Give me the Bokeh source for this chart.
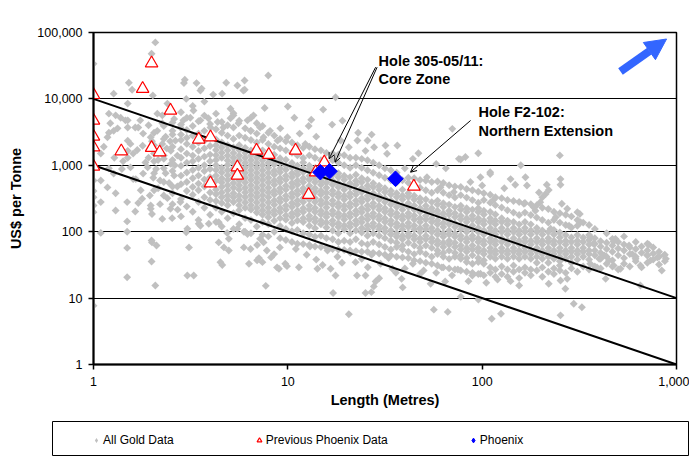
import math
from bokeh.plotting import figure
from bokeh.models import (Range1d, FixedTicker, NumeralTickFormatter, Label, Arrow,
                          NormalHead, OpenHead, Legend, LegendItem)
from bokeh.layouts import column
from bokeh.embed import file_html
from bokeh.resources import INLINE

FONT = "Liberation Sans"

# ---------------- data ----------------
# All Gold Data: columns of the dense cloud (length, [US$ per tonne values])
gold_strips_a = [
    (2.05, [420, 760, 1150, 2000, 3100]),
    (2.30, [350, 560, 900, 1400, 2500, 3900]),
    (2.55, [260, 480, 820, 1200, 1900, 2900, 4400]),
    (2.82, [170, 310, 520, 700, 980, 1300, 1750, 2400, 2900, 4100, 6300]),
    (3.02, [240, 410, 560, 780, 1090, 1500, 2100, 2600, 3400, 5200]),
    (3.24, [200, 360, 470, 640, 850, 1150, 1400, 1900, 2800, 3900, 7800]),
    (3.47, [150, 280, 420, 530, 700, 920, 1250, 1650, 2200, 3000, 4600]),
    (3.72, [230, 330, 480, 610, 820, 1000, 1350, 1800, 2350, 3300, 5600, 9100]),
    (3.98, [180, 300, 390, 520, 660, 880, 1150, 1450, 1950, 2600, 4200]),
    (4.27, [140, 230, 290, 365, 430, 590, 700, 850, 1000, 1200, 1420, 1700, 2000, 2450, 3500, 6000]),
    (4.57, [120, 200, 270, 330, 390, 470, 550, 640, 780, 920, 1300, 1550, 1850, 2200, 3100, 4500]),
    (4.90, [160, 250, 300, 350, 420, 500, 600, 710, 840, 1010, 1180, 1400, 1680, 2000, 2800, 4000]),
    (5.25, [110, 190, 280, 330, 380, 460, 540, 650, 770, 900, 1100, 1300, 1530, 1850, 2500, 3700, 6100]),
    (5.62, [130, 210, 250, 300, 350, 430, 500, 590, 700, 850, 1000, 1190, 1400, 1700, 2000, 2800, 4700]),
    (6.03, [100, 160, 230, 275, 330, 390, 460, 550, 650, 770, 920, 1090, 1300, 1540, 1830, 2600, 3600]),
    (6.46, [95, 150, 215, 250, 300, 355, 420, 500, 600, 710, 840, 1000, 1190, 1410, 1680, 2400, 3300, 5200]),
    (6.92, [120, 195, 230, 275, 330, 385, 460, 550, 650, 770, 920, 1090, 1300, 1540, 2200, 3000, 4300]),
    (7.41, [90, 140, 180, 210, 250, 300, 355, 420, 500, 600, 710, 840, 1000, 1190, 1410, 1680, 2400, 3900]),
    (7.94, [85, 130, 165, 195, 230, 275, 330, 390, 460, 550, 650, 770, 920, 1090, 1300, 1540, 2100, 3100]),
    (8.51, [100, 146, 181, 208, 255, 296, 362, 415, 508, 590, 722, 830, 1020, 1170, 1440, 1900, 2800]),
    (9.12, [80, 122, 160, 197, 228, 279, 320, 392, 452, 556, 640, 785, 905, 1110, 1280, 1800, 2500]),
    (9.77, [75, 110, 152, 175, 214, 247, 304, 349, 430, 492, 606, 697, 855, 985, 1210, 1680, 2300]),
]
gold_strips_b = [
    (10.5, [70, 102, 135, 166, 190, 236, 270, 331, 380, 468, 540, 660, 760, 930, 1080, 1540, 2200]),
    (11.2, [66, 106, 147, 182, 207, 256, 294, 362, 415, 510, 585, 720, 830, 990, 1410, 2000]),
    (12.0, [65, 95, 140, 160, 198, 226, 280, 320, 395, 452, 556, 640, 785, 905, 1100, 1290, 1830]),
    (12.9, [63, 91, 123, 153, 174, 215, 247, 305, 349, 430, 492, 606, 697, 855, 985, 1410, 1900]),
    (13.8, [60, 84, 113, 140, 160, 198, 227, 279, 320, 394, 452, 556, 640, 786, 905, 1300, 1750]),
    (14.8, [59, 87, 129, 147, 182, 207, 256, 294, 362, 415, 510, 586, 720, 830, 1190, 1680]),
    (15.8, [58, 80, 116, 137, 166, 190, 231, 270, 326, 385, 460, 546, 649, 775, 1090, 1540]),
    (17.0, [55, 77, 104, 129, 147, 182, 207, 256, 294, 362, 415, 510, 586, 720, 830, 1190, 1500]),
    (18.2, [54, 70, 95, 118, 134, 166, 190, 236, 269, 332, 380, 469, 537, 660, 760, 1090, 1450]),
    (19.5, [53, 73, 108, 124, 153, 175, 215, 247, 305, 349, 430, 492, 606, 697, 1000, 1420]),
    (20.9, [52, 70, 95, 118, 134, 166, 190, 236, 269, 332, 380, 469, 537, 660, 917, 1300]),
    (22.4, [51, 77, 104, 128, 147, 181, 207, 256, 294, 362, 415, 510, 585, 720, 1000, 1300]),
    (24.0, [50, 67, 97, 114, 139, 160, 196, 226, 280, 320, 394, 452, 556, 640, 917, 1250]),
    (25.7, [50, 64, 87, 108, 124, 153, 175, 215, 247, 305, 349, 430, 492, 606, 841, 1190]),
    (27.5, [48, 70, 95, 118, 134, 166, 190, 236, 269, 332, 380, 469, 537, 772, 1090]),
    (29.5, [47, 64, 87, 108, 123, 153, 174, 215, 246, 305, 348, 430, 492, 708, 1000]),
    (31.6, [45, 59, 80, 99, 114, 140, 160, 198, 226, 279, 320, 394, 452, 649, 900]),
]
gold_strips_c = [
    (33.9, [44, 54, 73, 91, 104, 129, 147, 182, 207, 256, 294, 362, 415, 596, 841]),
    (36.3, [42, 59, 68, 84, 95, 118, 134, 166, 190, 236, 269, 332, 380, 546, 772]),
    (38.9, [41, 54, 62, 77, 87, 108, 124, 153, 174, 215, 246, 305, 349, 430, 596]),
    (41.7, [40, 50, 68, 84, 95, 118, 135, 166, 190, 236, 269, 332, 380, 546, 650]),
    (44.7, [37, 46, 62, 77, 87, 108, 124, 153, 175, 215, 247, 305, 349, 501, 640]),
    (47.9, [36, 50, 57, 70, 80, 99, 114, 140, 160, 198, 226, 279, 320, 460, 600]),
    (51.3, [34, 46, 62, 77, 87, 108, 124, 153, 174, 215, 246, 305, 422, 590]),
    (55.0, [33, 42, 57, 70, 80, 99, 114, 140, 160, 198, 226, 279, 387, 560]),
    (58.9, [31, 46, 52, 64, 73, 91, 104, 129, 147, 182, 207, 256, 294, 422, 570]),
    (63.1, [29, 42, 48, 59, 68, 84, 95, 118, 135, 166, 190, 236, 269, 387, 540]),
    (67.6, [28, 39, 52, 64, 73, 91, 104, 129, 147, 182, 207, 256, 355, 500]),
    (72.4, [27, 42, 48, 59, 68, 84, 95, 118, 134, 166, 190, 236, 326, 480]),
    (77.6, [26, 39, 44, 54, 62, 77, 87, 108, 124, 153, 174, 215, 246, 355, 470]),
    (83.2, [25, 35, 40, 50, 57, 70, 80, 99, 114, 140, 160, 198, 226, 326, 440]),
    (89.1, [24, 33, 44, 54, 62, 77, 87, 108, 124, 153, 174, 215, 299, 420]),
    (95.5, [23, 35, 40, 50, 57, 70, 80, 99, 114, 140, 160, 198, 226, 274, 400]),
    (102, [22, 33, 37, 46, 52, 64, 73, 91, 104, 129, 147, 182, 207, 299, 380]),
]
gold_strips_d = [
    (110, [24, 29, 42, 50, 57, 70, 80, 99, 114, 140, 160, 198, 274, 360]),
    (117, [21, 27, 39, 46, 52, 64, 73, 91, 104, 129, 147, 182, 251, 330]),
    (126, [23, 30, 42, 50, 57, 70, 80, 99, 114, 140, 160, 231, 320]),
    (135, [21, 27, 39, 46, 52, 64, 73, 91, 104, 129, 147, 211, 300]),
    (145, [25, 31, 42, 50, 57, 70, 80, 99, 114, 140, 194, 290]),
    (155, [20, 27, 39, 46, 52, 64, 73, 91, 104, 129, 178, 280]),
    (166, [24, 29, 42, 50, 57, 70, 80, 99, 114, 140, 194, 270]),
    (178, [22, 27, 39, 46, 52, 64, 73, 91, 104, 129, 178, 260]),
    (191, [26, 34, 42, 50, 57, 70, 80, 99, 114, 163, 250]),
    (204, [21, 29, 39, 46, 52, 64, 73, 91, 104, 150, 230]),
    (219, [25, 34, 42, 50, 57, 70, 80, 99, 137, 220]),
    (234, [23, 28, 39, 46, 52, 64, 73, 91, 106, 150, 200]),
    (251, [26, 31, 36, 42, 50, 57, 70, 82, 97, 137, 190]),
    (269, [24, 39, 46, 52, 64, 73, 89, 126, 180]),
    (288, [28, 34, 42, 50, 57, 70, 82, 116, 170]),
    (309, [25, 38, 46, 52, 64, 73, 89, 150]),
    (331, [30, 42, 50, 57, 70, 82, 137]),
    (355, [27, 38, 46, 52, 64, 75, 89, 126]),
    (380, [30, 44, 52, 66, 80, 110]),
    (407, [28, 39, 48, 60, 72]),
    (437, [33, 42, 55, 68, 95]),
    (468, [30, 37, 50, 62, 78]),
    (501, [27, 44, 56, 70]),
    (537, [33, 40, 52, 64, 85]),
    (575, [30, 46, 58]),
    (617, [36, 42, 55, 70]),
    (661, [29, 48, 60]),
    (708, [34, 44, 52, 66]),
    (759, [38, 47, 58]),
    (813, [32, 42, 50]),
    (871, [36, 45]),
]
# All Gold Data: scattered points (length, US$ per tonne)
gold_left = [
    (1, 33700), (1, 7.7), (1, 248), (1, 197), (1, 590), (1, 330), (1, 410), (1.09, 279), (1.09, 96),
    (1.09, 1500), (1.09, 590), (1.18, 465), (1.27, 750), (1.28, 1300), (1.2, 6000), (1.3, 5650),
    (1.38, 5200), (1.5, 8500), (1.2, 3100), (1.33, 3600), (1.5, 4750), (1.5, 3700), (1.7, 3700),
    (1.55, 2100), (1.6, 1500), (1.5, 1300), (1.55, 930), (1.9, 930), (1.8, 750), (1.92, 1300),
    (2.03, 650), (2.2, 590), (1.27, 12000), (1.52, 17500), (1.58, 13700), (2.08, 71000), (1.99, 48000),
    (2.02, 11300), (1.22, 4300), (1.27, 3300), (1.46, 4750), (1.5, 2350), (1.5, 1650), (1.18, 2650),
    (1.64, 3700), (1.74, 4750), (1.8, 3000), (1.92, 4000), (1.79, 1970), (1.97, 2650), (2.13, 3300),
    (2.26, 4300), (2.26, 5650), (2.4, 8500), (2.13, 6000), (2.55, 3300), (2.64, 2350), (2.8, 3700),
    (2.9, 4750), (2.5, 1650), (2.26, 2100), (1.4, 880), (1.65, 620), (1.75, 420), (1.85, 1100),
    (2.05, 1500), (2.1, 880), (2.15, 450), (2.3, 1250), (2.35, 760), (2.45, 540), (2.5, 1050),
    (2.55, 380), (2.6, 700), (2.7, 1400), (2.7, 480), (2.4, 320), (2.2, 260), (1.95, 350), (1.7, 270),
    (2.35, 2700), (2.6, 5000), (2.0, 2300), (1.6, 620), (1.3, 380), (1.2, 900), (1.13, 1900),
    (1.42, 1150), (1.68, 1700), (2.38, 1800), (2.62, 1000), (2.48, 2300), (2.15, 1200),
]
gold_low = [
    (1.49, 20.6), (2.08, 15.5), (1.49, 57), (1.49, 100), (1.49, 143), (1.99, 74), (2.0, 69), (2.11, 62),
    (1.99, 35.6), (3.04, 21.9), (3.28, 21.9), (3.1, 58), (3.04, 111), (3.0, 98), (2.26, 156), (2.54, 160),
    (3.48, 132), (1.3, 208), (1.64, 201), (1.49, 279), (1.78, 313), (1.97, 248), (2.0, 185), (1.97, 221),
    (2.49, 221), (2.71, 215), (2.8, 279), (3.55, 123), (4.41, 69), (4.69, 58), (4.97, 52), (4.5, 34.8),
    (4.6, 31.6), (5.94, 58), (6.43, 55), (4.97, 78), (4.87, 96), (6.31, 33), (6.95, 37), (7.1, 40),
    (7.4, 34.8), (7.7, 15.3), (9.0, 27.6), (8.8, 29), (8.2, 41), (8.5, 46), (7.8, 52), (9.1, 58),
    (9.7, 33), (7.2, 78), (7.5, 69), (6.95, 63), (5.94, 100), (6.2, 92), (5.5, 111), (3.92, 132),
    (4.41, 139), (20.6, 5.7), (56.4, 6.7), (66.5, 6.2), (17.1, 11.9), (25.1, 11.9), (26.9, 12.3),
    (77.6, 10.5), (95.6, 9.5), (27.7, 15), (28.3, 17.8), (29.5, 19.9), (39, 14.5), (22.7, 21.9),
    (25.1, 21.9), (17.6, 21.9), (14.2, 27.6), (15.1, 31.6), (16.6, 27.6), (11.4, 29.2), (9.9, 30.3),
    (22.3, 34.8), (25.8, 29.2), (38.5, 19.5), (54.3, 16.4), (64.5, 17.8), (34.5, 27.6), (48, 23.2),
    (89, 21.9), (98, 23.2), (12.5, 45), (14, 38), (18, 42), (21, 48), (24, 39), (30, 33), (33, 40),
    (40, 28), (44, 33), (50, 26), (58, 24), (62, 29), (70, 22), (75, 27), (85, 18), (105, 17),
    (120, 19), (140, 18), (11, 55), (13, 60), (16, 52), (19, 34), (27, 45), (36, 24), (652, 15.5),
    (296, 8.2), (326, 7.3), (253, 5.5), (112, 4.9), (125, 5.8), (268, 13.8), (155, 15.5), (220, 16.4),
    (253, 18.4), (274, 19.5), (432, 19.5), (840, 26), (515, 27.6),
]
gold_high = [
    (2.95, 19400), (2.92, 17300), (3.39, 17300), (3.55, 13400), (4.13, 11600), (4.59, 12000),
    (4.82, 17500), (5.5, 15900), (5.99, 18900), (5.9, 13400), (7.93, 22500), (3.0, 10000), (3.6, 14300),
    (6.0, 13700), (10.0, 7700), (7.6, 7300), (15.2, 6900), (13.2, 4840), (17.6, 10600), (5.07, 7100),
    (3.15, 5200), (3.27, 6700), (3.55, 4750), (3.9, 5100), (4.0, 3700), (4.35, 4500), (4.66, 3700),
    (5.07, 5100), (5.25, 5650), (5.57, 4300), (6.2, 4750), (6.43, 3300), (6.66, 5650), (7.2, 3700),
    (8.1, 3300), (9.15, 3600), (9.95, 2650), (8.85, 2350), (7.5, 2650), (19.1, 4700), (16.9, 4100),
    (22.8, 2360), (25.7, 2360), (31.8, 1990), (36.6, 1990), (32.4, 1490), (25.1, 1650), (75.9, 1250),
    (70.2, 3540), (82, 1330), (95.5, 1520), (12.3, 2100), (18.7, 2360), (20.6, 1870), (47, 1520),
    (77.5, 1220), (98, 660), (87, 560), (110, 740), (71.5, 395), (61, 465), (52, 660), (27.8, 1870),
    (251, 1410), (158, 1000), (110, 789), (167, 660), (170, 497), (148, 510), (215, 510), (220, 425),
    (212, 370), (253, 620), (253, 510), (196, 390), (100, 497), (115, 305), (164, 263), (184, 234),
    (188, 207), (199, 278), (204, 330), (257, 263), (274, 221), (309, 197), (318, 185), (321, 139),
    (309, 123), (280, 123), (239, 165), (225, 111), (360, 83), (374, 66), (485, 78), (475, 71),
    (570, 62), (720, 64), (592, 46), (616, 39), (707, 44), (735, 37), (797, 41), (864, 44), (882, 39),
    (652, 31), (475, 31), (425, 44), (400, 39), (450, 37), (360, 33), (390, 29), (11.5, 3000),
    (14, 2700), (10.8, 5200), (12.8, 3900), (23, 3100), (27, 2900), (44, 1250), (58, 1050), (65, 900),
    (40, 900), (130, 450), (140, 620),
]

# Previous Phoenix Data
prev_len = [1, 1, 1, 1, 1, 1.39, 1.79, 1.99, 1.99, 2.19, 2.49, 3.48, 4.0, 4.0, 5.5, 5.5, 6.9,
            7.98, 10.96, 12.8, 13.9, 15.4, 44.5]
prev_usd = [11500, 4730, 2715, 1875, 959, 1630, 14200, 34500, 1835, 1575, 6690, 2450, 2650, 537,
            936, 702, 1670, 1440, 1670, 360, 787, 1110, 480]
# Phoenix
phx_len = [14.7, 16.4, 35.8]
phx_usd = [787, 815, 626]
# reference lines
trend_len = [1, 1000]
upper_usd = [10000, 10]
lower_usd = [1000, 1]

x_ticks = [1, 10, 100, 1000]
y_ticks = [1, 10, 100, 1000, 10000, 100000]

# build flat series from the tables above
gold_len, gold_usd = [], []
for strips in (gold_strips_a, gold_strips_b, gold_strips_c, gold_strips_d):
    for L, vals in strips:
        for v in vals:
            gold_len.append(L)
            gold_usd.append(v)
for pairs in (gold_left, gold_low, gold_high):
    for L, v in pairs:
        gold_len.append(L)
        gold_usd.append(v)

GRAY = "#C0C0C0"
GRAY_SIZE = 5.6

# ---------------- main chart ----------------
p = figure(width=689, height=421, x_axis_type="log", y_axis_type="log",
           x_range=Range1d(1, 1000), y_range=Range1d(1, 100000),
           output_backend="svg", toolbar_location=None, title=None,
           min_border_left=93, min_border_right=13, min_border_top=32, min_border_bottom=57)
p.frame_align = False
p.background_fill_color = "white"
p.border_fill_color = "white"
p.outline_line_color = "black"
p.outline_line_width = 1.5

p.xaxis.ticker = FixedTicker(ticks=x_ticks)
p.yaxis.ticker = FixedTicker(ticks=y_ticks)
p.axis.formatter = NumeralTickFormatter(format="0,0")
p.axis.axis_line_color = "black"
p.axis.axis_line_width = 2
p.axis.major_tick_line_color = "black"
p.axis.major_tick_line_width = 1.5
p.axis.major_tick_in = 0
p.axis.major_tick_out = 5
p.axis.minor_tick_line_color = None
p.axis.major_label_text_font = FONT
p.axis.major_label_text_font_size = "12.5px"
p.axis.major_label_text_color = "black"
p.axis.axis_label_text_font = FONT
p.axis.axis_label_text_font_style = "bold"
p.axis.axis_label_text_font_size = "14.5px"
p.axis.axis_label_text_color = "black"
p.xaxis.axis_label = "Length (Metres)"
p.yaxis.axis_label = "US$ per Tonne"
p.xaxis.major_label_standoff = 7
p.yaxis.major_label_standoff = 6
p.xaxis.axis_label_standoff = 3
p.yaxis.axis_label_standoff = 10
p.xgrid.visible = False
p.ygrid.grid_line_color = "black"
p.ygrid.grid_line_width = 1

p.scatter(gold_len, gold_usd, marker="square", angle=math.pi / 4, size=GRAY_SIZE,
          fill_color=GRAY, line_color=None)
p.line(trend_len, upper_usd, line_color="black", line_width=2)
p.line(trend_len, lower_usd, line_color="black", line_width=2)
p.scatter(prev_len, prev_usd, marker="triangle", size=12.5, fill_color="white",
          line_color="#FF0000", line_width=1.2)
p.scatter(phx_len, phx_usd, marker="square", angle=math.pi / 4, size=11,
          fill_color="#0000FF", line_color="#0000FF")

# annotations
p.add_layout(Arrow(end=OpenHead(size=6, line_width=1, line_color="black"),
                   x_start=28.3, y_start=30000, x_end=16.3, y_end=1253,
                   line_width=1, line_color="black"))
p.add_layout(Arrow(end=OpenHead(size=6, line_width=1, line_color="black"),
                   x_start=28.8, y_start=30000, x_end=17.5, y_end=1114,
                   line_width=1, line_color="black"))
p.add_layout(Arrow(end=OpenHead(size=6, line_width=1, line_color="black"),
                   x_start=87.2, y_start=4730, x_end=42.8, y_end=787,
                   line_width=1, line_color="black"))
p.add_layout(Arrow(end=NormalHead(size=21, fill_color="#3366FF", line_color="#3366FF"),
                   x_start=515, y_start=25900, x_end=889, y_end=79800,
                   line_width=8, line_color="#3366FF"))

def add_text(x, y, txt):
    p.add_layout(Label(x=x, y=y, text=txt, text_font=FONT, text_font_style="bold",
                       text_font_size="14.5px", text_color="black",
                       text_align="left", text_baseline="middle"))

add_text(29.3, 37200, "Hole 305-05/11:")
add_text(29.3, 19600, "Core Zone")
add_text(95.8, 6240, "Hole F2-102:")
add_text(95.8, 3230, "Northern Extension")
add_text(397, 168000, "Higher Value")

# ---------------- legend strip ----------------
leg = figure(width=689, height=35, x_range=Range1d(0, 1), y_range=Range1d(0, 1),
             output_backend="svg", toolbar_location=None, title=None,
             x_axis_location=None, y_axis_location=None,
             min_border_left=52, min_border_right=0, min_border_top=0, min_border_bottom=0)
leg.frame_align = False
leg.xgrid.visible = False
leg.ygrid.visible = False
leg.outline_line_color = "black"
leg.outline_line_width = 1
leg.background_fill_color = "white"
leg.border_fill_color = "white"
# legend swatches: first value of each series, which lies outside this strip's ranges
g1 = leg.scatter(gold_len[:1], gold_usd[:1], marker="diamond", size=8,
                 fill_color=GRAY, line_color=None)
g2 = leg.scatter(prev_len[:1], prev_usd[:1], marker="triangle", size=12.5, fill_color="white",
                 line_color="#FF0000", line_width=1.2)
g3 = leg.scatter(phx_len[:1], phx_usd[:1], marker="diamond", size=12,
                 fill_color="#0000FF", line_color="#0000FF")
legend = Legend(items=[LegendItem(label="All Gold Data", renderers=[g1]),
                       LegendItem(label="Previous Phoenix Data", renderers=[g2]),
                       LegendItem(label="Phoenix", renderers=[g3])],
                location=(38, 8), orientation="horizontal", spacing=79,
                glyph_width=12, glyph_height=16, label_height=16, label_standoff=1,
                padding=0, margin=0, border_line_color=None, background_fill_alpha=0,
                label_text_font=FONT, label_text_font_size="12px", label_text_color="black")
leg.add_layout(legend)

layout = column(p, leg, spacing=0)
open("out.html", "w").write(file_html(layout, INLINE))
